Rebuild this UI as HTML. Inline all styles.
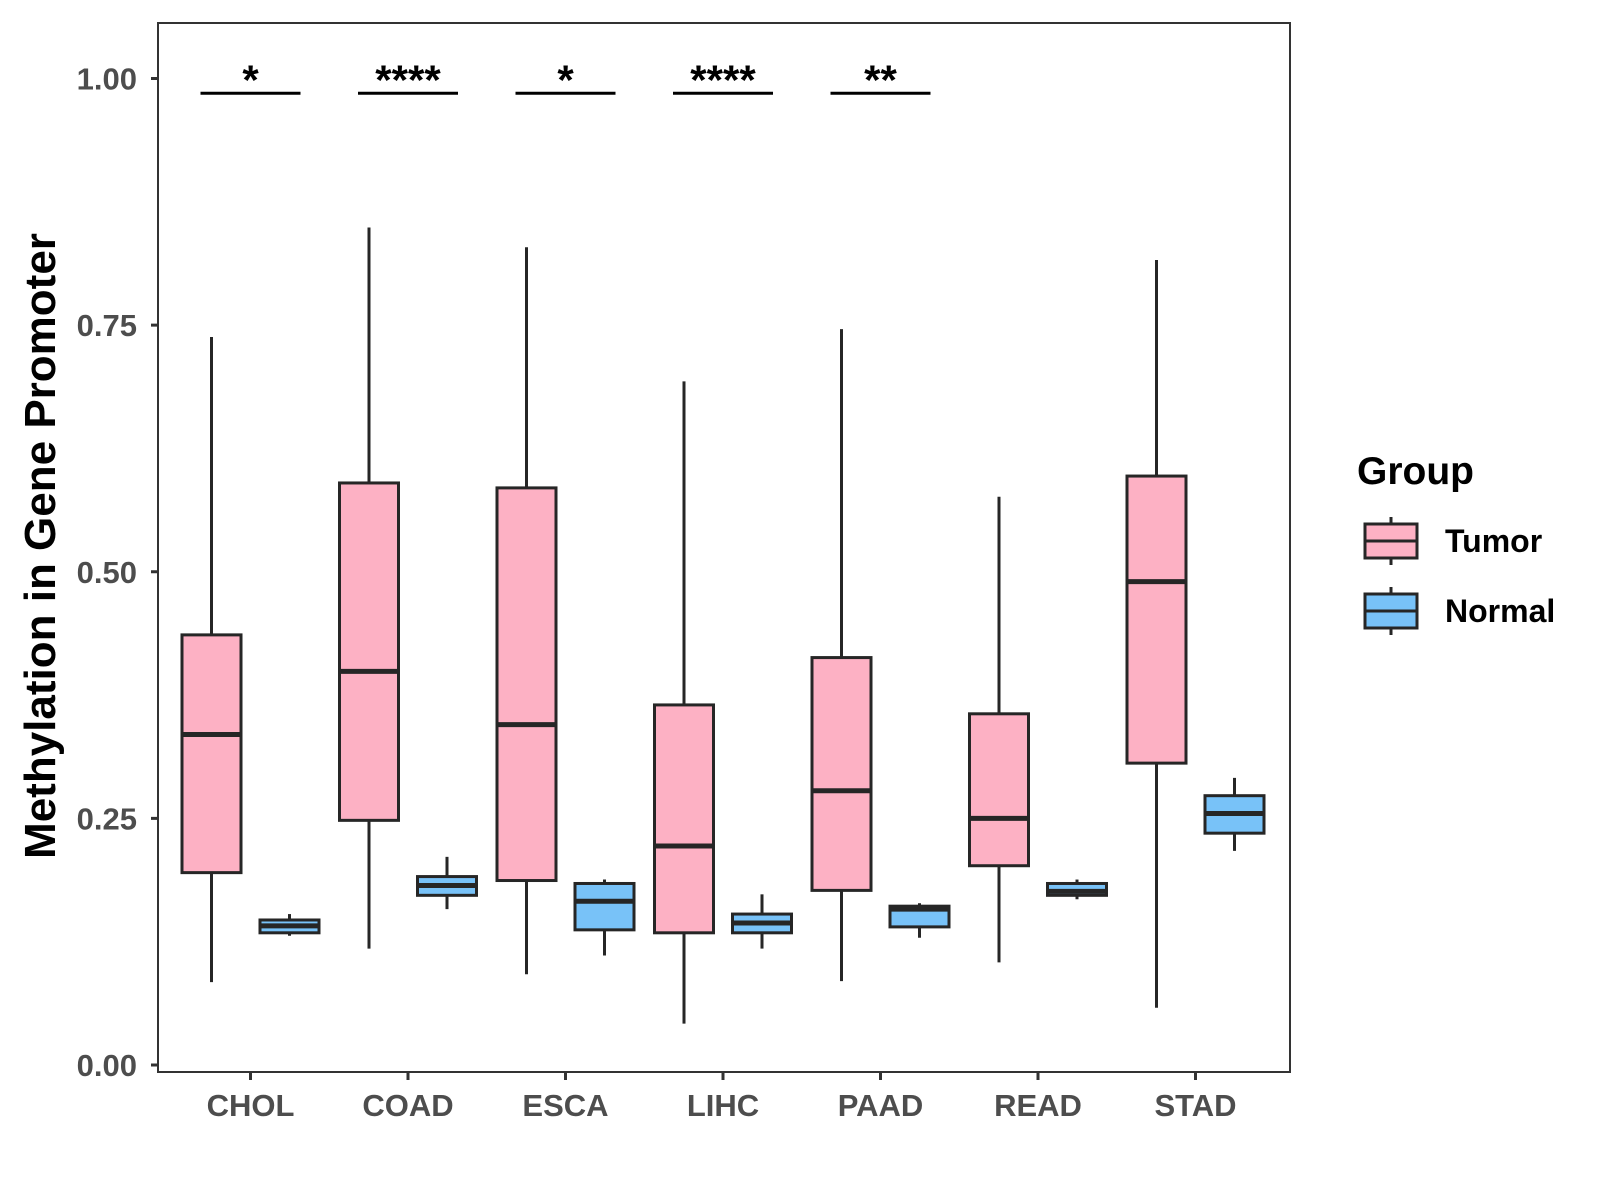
<!DOCTYPE html>
<html><head><meta charset="utf-8"><style>body{margin:0;background:#fff}svg{display:block}text{font-family:"Liberation Sans",sans-serif;font-weight:bold}</style></head>
<body>
<svg id="chart" width="1600" height="1200" xmlns="http://www.w3.org/2000/svg"></svg>
<script>
const categories=["CHOL","COAD","ESCA","LIHC","PAAD","READ","STAD"];
// [lowWhisker, Q1, median, Q3, highWhisker]
const tumorStats=[[0.084,0.195,0.335,0.436,0.738],[0.118,0.248,0.399,0.590,0.849],[0.092,0.187,0.345,0.585,0.829],[0.042,0.134,0.222,0.365,0.693],[0.085,0.177,0.278,0.413,0.746],[0.104,0.202,0.250,0.356,0.576],[0.058,0.306,0.490,0.597,0.816]];
const normalStats=[[0.131,0.134,0.141,0.147,0.153],[0.158,0.172,0.182,0.191,0.211],[0.111,0.137,0.166,0.184,0.188],[0.118,0.134,0.144,0.153,0.173],[0.129,0.140,0.158,0.161,0.164],[0.168,0.172,0.176,0.184,0.188],[0.217,0.235,0.255,0.273,0.291]];
const sigLabels=["*","****","*","****","**","",""];
const yTicks=[0,0.25,0.5,0.75,1.0];
const yTickLabels=["0.00","0.25","0.50","0.75","1.00"];
const sigLevel=0.985;

const NS="http://www.w3.org/2000/svg";
const svg=document.getElementById('chart');
const L=158,R=1290,T=23,B=1072;
const y=v=>1065-v*986.5;
const x=i=>250.5+i*157.5;
function el(t,a,p){const e=document.createElementNS(NS,t);for(const k in a)e.setAttribute(k,a[k]);(p||svg).appendChild(e);return e;}

const panel=el('rect',{x:L,y:T,width:R-L,height:B-T,fill:'#fff',stroke:'#333','stroke-width':2});



yTicks.forEach((v,i)=>{
  const t=el('line',{x1:L-7,x2:L,y1:y(v),y2:y(v),stroke:'#333','stroke-width':3});
  
  
  const tx=el('text',{x:L-21,y:y(v)+11,'text-anchor':'end','font-size':31,fill:'#4d4d4d'});
  tx.textContent=yTickLabels[i];
  
  
});
categories.forEach((c,i)=>{
  const t=el('line',{x1:x(i),x2:x(i),y1:B,y2:B+8,stroke:'#333','stroke-width':3});
  
  
  const tx=el('text',{x:x(i),y:1116,'text-anchor':'middle','font-size':31,fill:'#4d4d4d'});
  tx.textContent=c;
  
  
});

function box(cx,s,fill,name){
  const g=el('g',{});
  
  
  el('line',{x1:cx,x2:cx,y1:y(s[0]),y2:y(s[4]),stroke:'#262626','stroke-width':3},g);
  el('rect',{x:cx-29.5,y:y(s[3]),width:59,height:y(s[1])-y(s[3]),fill:fill,stroke:'#262626','stroke-width':3},g);
  el('line',{x1:cx-29.5,x2:cx+29.5,y1:y(s[2]),y2:y(s[2]),stroke:'#262626','stroke-width':5},g);
}
categories.forEach((c,i)=>{
  box(x(i)-39,tumorStats[i],'#FDB1C4','tumor-box-'+c.toLowerCase());
  box(x(i)+39,normalStats[i],'#78C2F8','normal-box-'+c.toLowerCase());
  if(sigLabels[i]){
    const l=el('line',{x1:x(i)-50,x2:x(i)+50,y1:y(sigLevel),y2:y(sigLevel),stroke:'#000','stroke-width':3});
    
    
    const tx=el('text',{x:x(i),y:y(sigLevel)+1,'text-anchor':'middle','font-size':42,fill:'#000'});
    tx.textContent=sigLabels[i];
    
    
  }
});

const yt=el('text',{x:0,y:0,transform:'translate(55,546) rotate(-90)','text-anchor':'middle','font-size':44,fill:'#000'});
yt.textContent='Methylation in Gene Promoter';



const lg=el('text',{x:1357,y:484,'font-size':39,fill:'#000'});
lg.textContent='Group';


[['Tumor','#FDB1C4',541],['Normal','#78C2F8',611]].forEach(([n,f,cy])=>{
  const g=el('g',{});
  
  
  el('line',{x1:1391,x2:1391,y1:cy-24,y2:cy+24,stroke:'#262626','stroke-width':3},g);
  el('rect',{x:1365,y:cy-17,width:52,height:34,fill:f,stroke:'#262626','stroke-width':3},g);
  el('line',{x1:1365,x2:1417,y1:cy,y2:cy,stroke:'#262626','stroke-width':3},g);
  const t=el('text',{x:1445,y:cy+11,'font-size':32,fill:'#000'},g);
  t.textContent=n;
});
</script>
</body></html>
